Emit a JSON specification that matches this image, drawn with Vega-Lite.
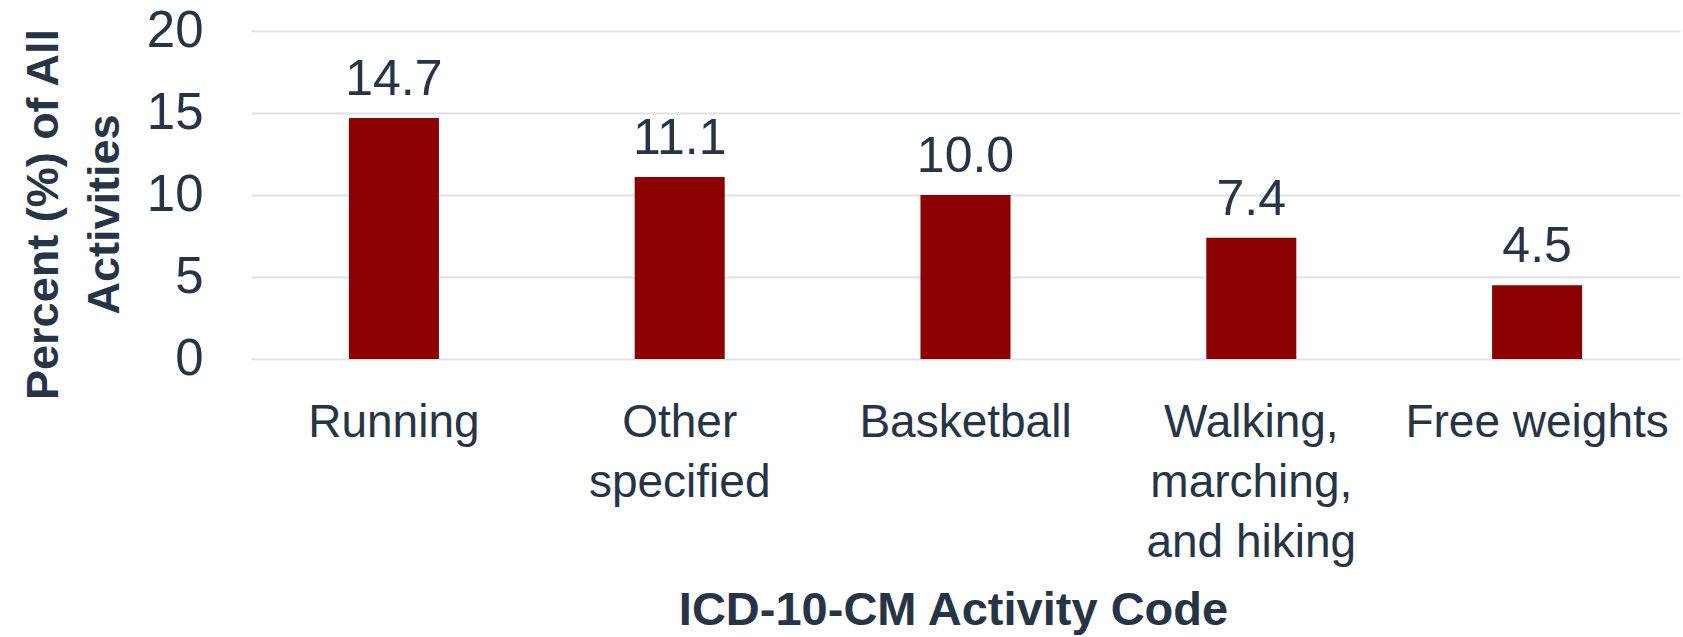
{
  "$schema": "https://vega.github.io/schema/vega-lite/v6.json",
  "autosize": "none",
  "width": 1429,
  "height": 328,
  "padding": {"left": 251, "top": 31, "right": 3, "bottom": 278},
  "background": "white",
  "config": {"view": {"stroke": null}},
  "data": {
    "values": [
      {"activity": "Running", "label": "Running", "pct": 14.7},
      {"activity": "Other specified", "label": "Other|specified", "pct": 11.1},
      {"activity": "Basketball", "label": "Basketball", "pct": 10.0},
      {"activity": "Walking, marching, and hiking", "label": "Walking,|marching,|and hiking", "pct": 7.4},
      {"activity": "Free weights", "label": "Free weights", "pct": 4.5}
    ]
  },
  "encoding": {
    "x": {
      "field": "label",
      "type": "nominal",
      "sort": null,
      "scale": {"paddingInner": 0.685, "paddingOuter": 0.3425},
      "axis": {
        "title": "ICD-10-CM Activity Code",
        "titleFont": "Liberation Sans",
        "titleFontWeight": "bold",
        "titleFontSize": 47,
        "titleColor": "#263445",
        "titleBaseline": "alphabetic",
        "titleX": 702,
        "titleY": 265,
        "titleAlign": "center",
        "labelExpr": "split(datum.label, '|')",
        "labelFont": "Liberation Sans",
        "labelFontSize": 46,
        "labelColor": "#263445",
        "labelAngle": 0,
        "labelLineHeight": 60,
        "labelPadding": 41,
        "labelBaseline": "top",
        "labelLimit": 0,
        "ticks": false,
        "domain": false,
        "grid": false
      }
    },
    "y": {
      "field": "pct",
      "type": "quantitative",
      "scale": {"domain": [0, 20]},
      "axis": {
        "values": [0, 5, 10, 15, 20],
        "title": ["Percent (%) of All", "Activities"],
        "titleFont": "Liberation Sans",
        "titleFontWeight": "bold",
        "titleFontSize": 45,
        "titleColor": "#263445",
        "titleLineHeight": 61,
        "titleAngle": -90,
        "titleBaseline": "alphabetic",
        "titleAlign": "center",
        "titleX": -194,
        "titleY": 183,
        "labelFont": "Liberation Sans",
        "labelFontSize": 51,
        "labelColor": "#263445",
        "labelPadding": 48,
        "ticks": false,
        "domain": false,
        "gridColor": "#dde1ea",
        "gridWidth": 2
      }
    }
  },
  "layer": [
    {"mark": {"type": "bar", "color": "#8b0000"}},
    {
      "mark": {"type": "text", "font": "Liberation Sans", "fontSize": 50, "color": "#263445", "baseline": "alphabetic", "dy": -23},
      "encoding": {"text": {"field": "pct", "type": "quantitative", "format": ".1f"}}
    }
  ]
}
